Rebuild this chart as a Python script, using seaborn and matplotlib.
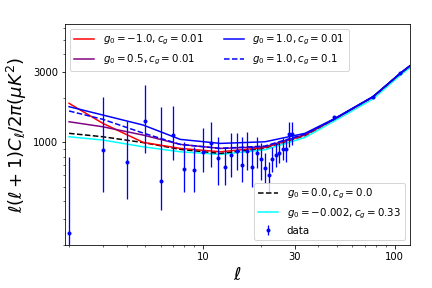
import numpy as np
import pandas as pd
import matplotlib
matplotlib.use("Agg")
import matplotlib.pyplot as plt
import seaborn as sns
from matplotlib.ticker import NullFormatter, ScalarFormatter
from matplotlib.lines import Line2D

# ---- model curves ----
ell_model = [2, 3, 4.87, 7.6, 12.3, 21, 34, 48, 77, 107, 125]
cl_red    = [1844, 1347, 1000, 910, 863, 922, 1121, 1430, 2040, 2950, 3450]
cl_purple = [1381, 1277, 1121, 969, 910, 933, 1130, 1430, 2040, 2950, 3450]
cl_blue   = [1749, 1535, 1312, 1048, 984, 1009, 1152, 1442, 2052, 2967, 3470]
cl_bdash  = [1635, 1435, 1157, 969, 910, 944, 1139, 1430, 2040, 2950, 3450]
cl_black  = [1152, 1092, 997, 896, 841, 914, 1113, 1430, 2040, 2950, 3450]
cl_cyan   = [1092, 1037, 933, 863, 828, 890, 1080, 1390, 1975, 2870, 3360]

# ---- data points ----
ell_data = [2, 3, 4, 5, 6, 7, 8, 9, 10, 11, 12, 13, 14, 15, 16, 17, 18, 19, 20,
            21, 22, 23, 24, 25, 26, 27, 28, 29, 48, 77, 107]
cl_data  = [241, 886, 731, 1397, 545, 1121, 655, 647, 863, 985, 778, 675, 815, 877,
            700, 877, 675, 849, 766, 665, 596, 766, 819, 849, 896, 896, 1139, 1139,
            1480, 2027, 2952]
cl_lo    = [100, 460, 415, 849, 349, 757, 460, 460, 630, 675, 511, 511, 583, 647,
            538, 647, 498, 665, 553, 525, 460, 630, 682, 726, 757, 738, 933, 958,
            1450, 2000, 2920]
cl_hi    = [798, 2027, 1403, 2460, 1750, 1767, 1000, 933, 1246, 1381, 1082, 925, 1152,
            1162, 1092, 1181, 944, 1092, 994, 841, 738, 925, 985, 1010, 1065, 1036,
            1381, 1381, 1510, 2055, 2985]

labels = {
    "red": r"$g_0=-1.0, c_g=0.01$",
    "purple": r"$g_0=0.5, c_g=0.01$",
    "blue": r"$g_0=1.0, c_g=0.01$",
    "bdash": r"$g_0=1.0, c_g=0.1$",
    "black": r"$g_0=0.0, c_g=0.0$",
    "cyan": r"$g_0=-0.002, c_g=0.33$",
}

xticks = [10, 30, 100]
yticks = [1000, 3000]

fig = plt.figure(figsize=(6, 4), dpi=72)
ax = fig.add_axes([0.150, 0.149, 0.799, 0.768])

df = pd.DataFrame({"ell": ell_model, "red": cl_red, "purple": cl_purple,
                   "blue": cl_blue, "bdash": cl_bdash, "black": cl_black,
                   "cyan": cl_cyan})

styles = {
    "cyan": dict(color="cyan", linestyle="-"),
    "black": dict(color="black", linestyle="--"),
    "red": dict(color="red", linestyle="-"),
    "purple": dict(color="purple", linestyle="-"),
    "bdash": dict(color="blue", linestyle="--"),
    "blue": dict(color="blue", linestyle="-"),
}
for key in ["cyan", "black", "red", "purple", "bdash", "blue"]:
    sns.lineplot(data=df, x="ell", y=key, ax=ax, linewidth=1.5, legend=False,
                 **styles[key])

cl_data_a = np.array(cl_data)
yerr = [cl_data_a - np.array(cl_lo), np.array(cl_hi) - cl_data_a]
eb = ax.errorbar(ell_data, cl_data, yerr=yerr, fmt="o", color="blue",
                 markersize=3, elinewidth=1.3, label="data")

ax.set_xscale("log")
ax.set_yscale("log")
ax.set_xlim(1.9, 120)
ax.set_ylim(200, 6400)
ax.set_xticks(xticks)
ax.set_yticks(yticks)
ax.xaxis.set_major_formatter(ScalarFormatter())
ax.yaxis.set_major_formatter(ScalarFormatter())
ax.xaxis.set_minor_formatter(NullFormatter())
ax.yaxis.set_minor_formatter(NullFormatter())

ax.set_xlabel(r"$\ell$", fontsize=18)
ax.set_ylabel(r"$\ell(\ell+1)C_\ell/2\pi(\mu K^2)$", fontsize=18)

h1 = [Line2D([], [], lw=1.5, **styles[k]) for k in ["red", "purple", "blue", "bdash"]]
l1 = [labels[k] for k in ["red", "purple", "blue", "bdash"]]
leg1 = ax.legend(h1, l1, loc="upper left", ncol=2, fontsize=10.2)
ax.add_artist(leg1)
h2 = [Line2D([], [], lw=1.5, **styles["black"]), Line2D([], [], lw=1.5, **styles["cyan"]), eb]
l2 = [labels["black"], labels["cyan"], "data"]
ax.legend(h2, l2, loc="lower right", fontsize=10.2)

fig.savefig("out.png", dpi=72)
